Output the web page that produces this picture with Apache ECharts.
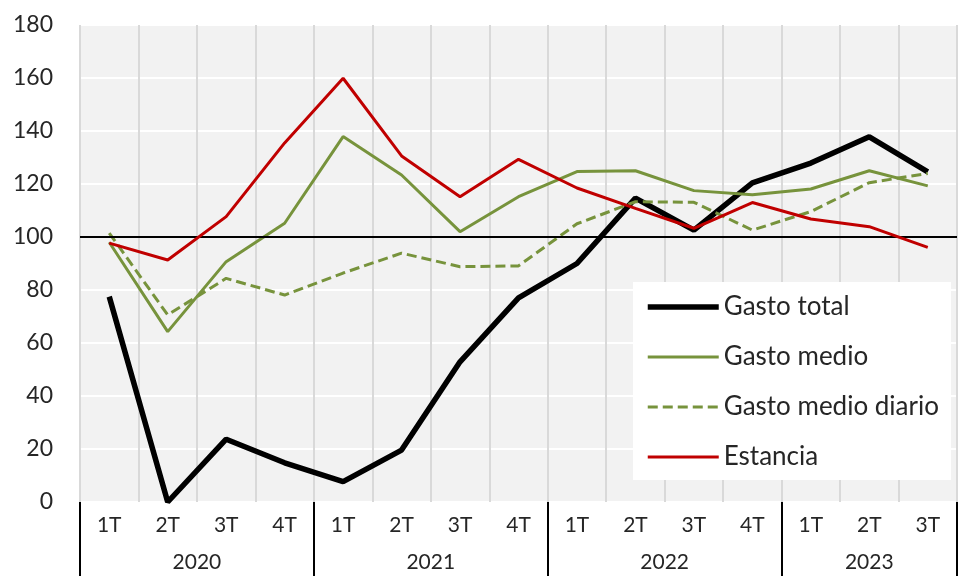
<!DOCTYPE html>
<html>
<head>
<meta charset="utf-8">
<script src="https://cdn.jsdelivr.net/npm/echarts@6/dist/echarts.min.js"></script>
<style>html,body{margin:0;padding:0;background:#fff}#c{width:960px;height:576px}</style>
</head>
<body>
<div id="c"></div>
<script>
const quarters = ['1T','2T','3T','4T','1T','2T','3T','4T','1T','2T','3T','4T','1T','2T','3T'];
const years = ['2020','2021','2022','2023'];
const yearCenters = [2, 6, 10, 13.5];
const gastoTotal = [77.5, 0, 23.7, 14.8, 7.7, 19.6, 52.9, 77, 90, 114.7, 102.6, 120.4, 127.9, 137.8, 124.6];
const gastoMedio = [98, 64.3, 90.7, 105.2, 137.9, 123.4, 102, 115.2, 124.7, 125, 117.5, 115.9, 118.1, 125, 119.3];
const gastoMedioDiario = [101.5, 70.6, 84.4, 78.1, 86.4, 93.9, 88.8, 89.1, 105, 113.3, 113.1, 102.6, 109.6, 120.5, 124];
const estancia = [97.7, 91.3, 107.7, 135.5, 159.9, 130.6, 115.2, 129.3, 118.5, 110.8, 103.3, 113, 106.8, 103.9, 96.1];

const FONT = 'Lato';
const TXT = '#262626';
const chart = echarts.init(document.getElementById('c'), null, {renderer: 'canvas'});
chart.setOption({
  animation: false,
  textStyle: {fontFamily: FONT},
  grid: {left: 80, top: 25, width: 882, bottom: 74, show: true, backgroundColor: '#f2f2f2', borderWidth: 0},
  legend: {
    orient: 'vertical', left: 633, top: 282,
    backgroundColor: '#ffffff', borderWidth: 0,
    padding: [12, 12, 10, 12],
    itemWidth: 71, itemHeight: 26, itemGap: 24,
    itemStyle: {color: 'rgba(0,0,0,0)', borderWidth: 0, opacity: 0},
    lineStyle: {width: 'inherit'},
    textStyle: {fontFamily: FONT, fontSize: 26, color: TXT},
    data: ['Gasto total', 'Gasto medio', 'Gasto medio diario', 'Estancia']
  },
  xAxis: [
    {
      type: 'category', data: quarters, boundaryGap: true,
      axisLine: {show: false},
      axisTick: {show: true, length: 80, interval: (i) => i % 4 === 0, lineStyle: {color: '#000', width: 2}},
      axisLabel: {fontFamily: FONT, fontSize: 21, color: TXT, margin: 13, interval: 0},
      splitLine: {show: true, interval: 0, lineStyle: {color: '#d9d9d9', width: 2}}
    },
    {
      type: 'value', min: 0, max: 15, interval: 0.5, position: 'bottom',
      axisLine: {show: false}, axisTick: {show: false}, splitLine: {show: false},
      axisLabel: {
        fontFamily: FONT, fontSize: 21, color: TXT, margin: 50, showMinLabel: true, showMaxLabel: true,
        formatter: (v) => { const k = yearCenters.indexOf(v); return k >= 0 ? years[k] : ''; }
      }
    }
  ],
  yAxis: {
    type: 'value', min: 0, max: 180, interval: 20,
    axisLine: {show: false}, axisTick: {show: false},
    axisLabel: {fontFamily: FONT, fontSize: 23, color: TXT, margin: 27},
    splitLine: {show: true, lineStyle: {color: '#ffffff', width: 2}}
  },
  series: [
    {name: 'Gasto total', type: 'line', data: gastoTotal, symbol: 'none', z: 3,
     lineStyle: {color: '#000000', width: 5.5}, itemStyle: {color: '#000000'},
     markLine: {silent: true, symbol: 'none', label: {show: false},
       lineStyle: {color: '#000', width: 2, type: 'solid'}, data: [{yAxis: 100}]}},
    {name: 'Gasto medio', type: 'line', data: gastoMedio, symbol: 'none', z: 4,
     lineStyle: {color: '#77933c', width: 3}, itemStyle: {color: '#77933c'}},
    {name: 'Gasto medio diario', type: 'line', data: gastoMedioDiario, symbol: 'none', z: 4,
     lineStyle: {color: '#77933c', width: 3, type: [10, 5]}, itemStyle: {color: '#77933c'}},
    {name: 'Estancia', type: 'line', data: estancia, symbol: 'none', z: 5,
     lineStyle: {color: '#c00000', width: 3}, itemStyle: {color: '#c00000'}}
  ]
});
</script>
</body>
</html>
